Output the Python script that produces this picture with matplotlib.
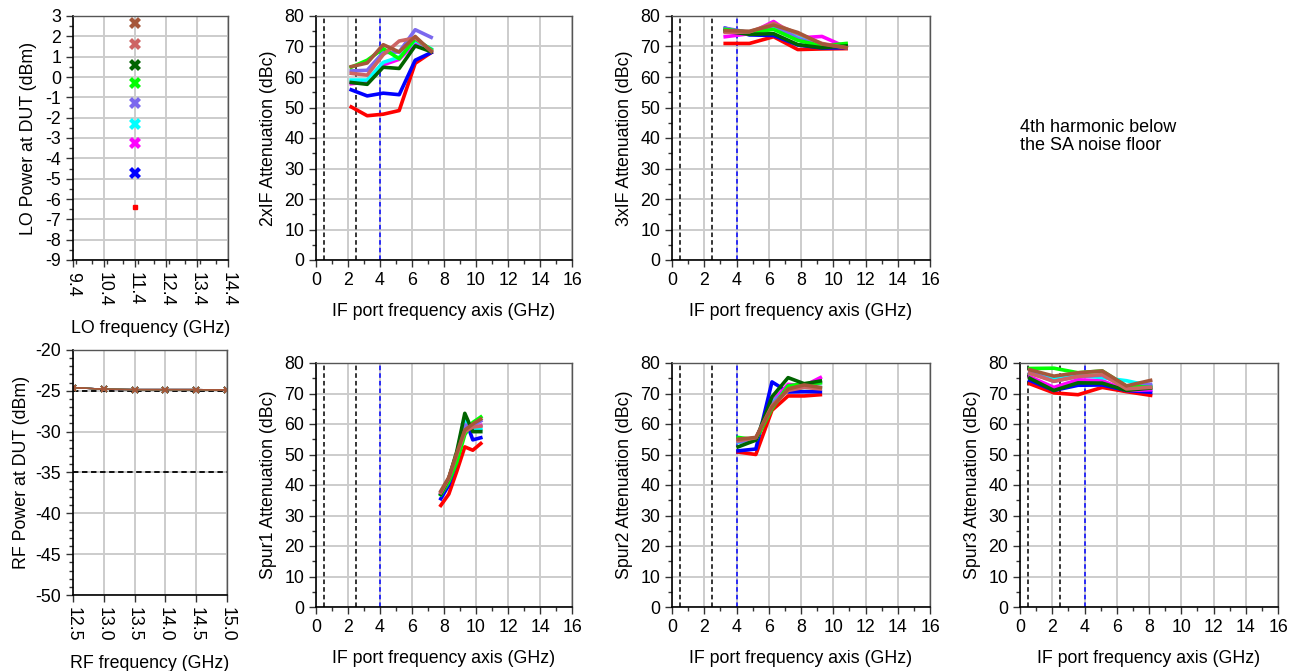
import matplotlib
matplotlib.use("Agg")
import matplotlib.pyplot as plt
from matplotlib.ticker import MultipleLocator, FormatStrFormatter

plt.rcParams['font.family'] = ['Liberation Sans', 'DejaVu Sans']
plt.rcParams['axes.unicode_minus'] = False
plt.rcParams['font.size'] = 12.8

# one colour per LO drive level (lowest to highest)
colors = ['#FF0000', '#0000FF', '#FF00FF', '#00FFFF', '#7B68EE',
          '#00FF00', '#006400', '#CD6464', '#A5573A']

lo_freq = 11.4
lo_power = [-6.4, -4.7, -3.25, -2.3, -1.3, -0.3, 0.6, 1.6, 2.65]
lo_ticks = [9.4, 10.4, 11.4, 12.4, 13.4, 14.4]

rf_freq = [12.5, 13.0, 13.5, 14.0, 14.5, 15.0]
rf_power = [-24.6, -24.8, -24.85, -24.85, -24.85, -24.9]
rf_limits = [-25, -35]

if_markers = [0.5, 2.5]
if_edge = 4.0

freq_2xif = [2.2, 3.2, 4.2, 5.2, 6.2, 7.2]
att_2xif = [
    [50.2, 47.3, 47.8, 49.0, 64.5, 68.0],
    [55.8, 53.8, 54.7, 54.2, 65.5, 68.0],
    [57.8, 58.3, 64.0, 65.8, 71.2, 69.0],
    [59.0, 59.0, 64.8, 66.5, 72.0, 69.2],
    [62.0, 62.2, 68.0, 68.2, 75.5, 73.0],
    [63.2, 65.5, 69.3, 66.0, 72.5, 69.0],
    [58.2, 57.6, 63.2, 62.8, 70.2, 68.3],
    [61.2, 60.6, 67.3, 71.8, 72.8, 68.6],
    [63.4, 64.6, 70.6, 68.2, 73.3, 68.4],
]

freq_3xif = [3.3, 4.8, 6.3, 7.8, 9.3, 10.8]
att_3xif = [
    [71.0, 71.0, 73.2, 69.0, 69.2, 69.3],
    [76.0, 73.8, 73.6, 70.5, 69.5, 69.6],
    [73.2, 74.2, 78.2, 72.8, 73.3, 69.8],
    [75.6, 74.6, 76.2, 73.5, 70.2, 70.0],
    [76.0, 74.6, 77.0, 72.6, 70.2, 70.2],
    [75.6, 74.6, 75.6, 72.0, 70.2, 71.0],
    [75.0, 74.0, 74.2, 70.6, 69.6, 70.2],
    [74.6, 74.8, 77.6, 74.2, 71.0, 69.6],
    [75.2, 75.0, 77.0, 74.6, 70.8, 69.6],
]

freq_spur1 = [7.8, 8.3, 8.8, 9.3, 9.8, 10.3]
att_spur1 = [
    [33.3, 37.0, 44.5, 52.5, 51.4, 53.6],
    [35.5, 40.0, 48.0, 62.0, 54.8, 55.5],
    [37.2, 42.0, 50.0, 61.0, 58.5, 59.5],
    [37.0, 42.0, 50.5, 62.0, 58.0, 58.5],
    [37.5, 42.2, 50.0, 59.5, 59.5, 61.0],
    [36.8, 41.0, 47.5, 56.5, 60.5, 62.3],
    [37.0, 42.2, 51.0, 63.5, 57.5, 57.5],
    [37.5, 42.2, 50.0, 57.5, 59.0, 59.3],
    [38.0, 42.5, 50.5, 58.0, 60.0, 61.6],
]

freq_spur2 = [4.1, 5.2, 6.2, 7.2, 8.2, 9.2]
att_spur2 = [
    [50.8, 50.0, 64.5, 69.2, 69.2, 69.6],
    [51.2, 51.8, 73.8, 70.5, 70.6, 70.6],
    [54.0, 55.0, 67.2, 73.0, 72.5, 75.2],
    [54.0, 55.0, 67.0, 71.5, 72.0, 72.0],
    [54.2, 55.0, 66.5, 72.0, 72.5, 73.5],
    [55.6, 54.8, 65.0, 72.5, 73.2, 73.5],
    [52.5, 54.7, 68.9, 75.2, 73.2, 74.1],
    [54.5, 55.5, 66.0, 71.0, 72.0, 71.5],
    [55.0, 55.6, 65.5, 71.5, 72.8, 72.0],
]

freq_spur3 = [0.6, 2.1, 3.6, 5.1, 6.6, 8.1]
att_spur3 = [
    [73.2, 70.2, 69.6, 72.0, 70.6, 69.4],
    [74.3, 71.0, 72.7, 72.8, 71.0, 70.4],
    [75.5, 72.0, 74.5, 74.2, 71.0, 71.2],
    [76.6, 75.0, 76.0, 75.2, 74.2, 72.5],
    [77.0, 74.0, 75.6, 76.0, 72.0, 73.0],
    [78.2, 78.3, 76.8, 77.4, 72.4, 72.0],
    [75.0, 71.0, 73.5, 73.4, 71.0, 71.8],
    [76.6, 74.0, 75.6, 76.2, 71.5, 72.0],
    [77.8, 75.7, 76.8, 77.4, 72.5, 74.3],
]

W, H = 1298, 671
fig = plt.figure(figsize=(W / 100, H / 100), dpi=100)


def px_axes(x0, y0, x1, y1):
    # axes box given in pixel corners (top-left origin)
    return fig.add_axes([x0 / W, 1 - y1 / H, (x1 - x0) / W, (y1 - y0) / H])


def style(ax):
    ax.set_axisbelow(True)
    ax.grid(True, which='major', color='#cccccc', linewidth=1.4)
    ax.tick_params(which='major', direction='out', length=5, width=1, color='#333333')
    ax.tick_params(which='minor', direction='out', length=3, width=1, color='#333333')
    for s in ['left', 'bottom']:
        ax.spines[s].set_color('black')
        ax.spines[s].set_linewidth(1.2)
    for s in ['top', 'right']:
        ax.spines[s].set_color('#555555')
        ax.spines[s].set_linewidth(1.0)


def if_panel(ax, freq, att, ylabel):
    style(ax)
    for xv in if_markers:
        ax.axvline(xv, color='black', linestyle='--', linewidth=1.1, dashes=(3, 2))
    ax.axvline(if_edge, color='#0000FF', linestyle='--', linewidth=1.1, dashes=(3, 2))
    for vals, c in zip(att, colors):
        ax.plot(freq, vals, color=c, linewidth=2.6)
    ax.set_xlim(0, 16)
    ax.set_ylim(0, 80)
    ax.xaxis.set_major_locator(MultipleLocator(2))
    ax.xaxis.set_minor_locator(MultipleLocator(1))
    ax.yaxis.set_major_locator(MultipleLocator(10))
    ax.yaxis.set_minor_locator(MultipleLocator(5))
    ax.set_xlabel('IF port frequency axis (GHz)', labelpad=10)
    ax.set_ylabel(ylabel, labelpad=5)


# LO power at the DUT
ax = px_axes(73, 16, 228, 260)
style(ax)
for p, c in zip(lo_power, colors):
    if p == lo_power[0]:
        ax.plot(lo_freq, p, 's', color=c, markersize=3)
    else:
        ax.plot(lo_freq, p, 'X', color=c, markersize=9, markeredgewidth=0)
ax.set_xlim(9.4, 14.4)
ax.set_ylim(-9, 3)
ax.set_xticks(lo_ticks)
ax.set_xticklabels([f'{t:.1f}' for t in lo_ticks], rotation=270)
ax.xaxis.set_minor_locator(MultipleLocator(0.5))
ax.yaxis.set_major_locator(MultipleLocator(1))
ax.yaxis.set_minor_locator(MultipleLocator(0.5))
ax.set_xlabel('LO frequency (GHz)', labelpad=10)
ax.set_ylabel('LO Power at DUT (dBm)', labelpad=6)

# RF power at the DUT
ax = px_axes(73, 350, 227, 595)
style(ax)
for yv in rf_limits:
    ax.axhline(yv, color='black', linestyle='--', linewidth=1.3, dashes=(3, 2))
for c in colors:
    ax.plot(rf_freq, rf_power, color=c, linewidth=1.0, marker='x',
            markersize=5, markeredgewidth=1.2)
ax.plot(rf_freq, rf_power, color='#A5573A', linewidth=1.0)
ax.set_xlim(12.5, 15.0)
ax.set_ylim(-50, -20)
ax.xaxis.set_major_locator(MultipleLocator(0.5))
ax.xaxis.set_major_formatter(FormatStrFormatter('%.1f'))
ax.yaxis.set_major_locator(MultipleLocator(5))
ax.yaxis.set_minor_locator(MultipleLocator(1))
ax.tick_params(axis='x', labelrotation=270)
ax.set_xlabel('RF frequency (GHz)', labelpad=10)
ax.set_ylabel('RF Power at DUT (dBm)', labelpad=4)

if_panel(px_axes(316, 16, 572, 260), freq_2xif, att_2xif, '2xIF Attenuation (dBc)')
if_panel(px_axes(672, 16, 930, 260), freq_3xif, att_3xif, '3xIF Attenuation (dBc)')
if_panel(px_axes(316, 363, 572, 607), freq_spur1, att_spur1, 'Spur1 Attenuation (dBc)')
if_panel(px_axes(672, 363, 930, 607), freq_spur2, att_spur2, 'Spur2 Attenuation (dBc)')
if_panel(px_axes(1020, 363, 1278, 607), freq_spur3, att_spur3, 'Spur3 Attenuation (dBc)')

fig.text(1020 / W, 1 - 119 / H, '4th harmonic below\nthe SA noise floor',
         ha='left', va='top', fontsize=13, linespacing=1.05)

fig.savefig('out.png', dpi=100)
